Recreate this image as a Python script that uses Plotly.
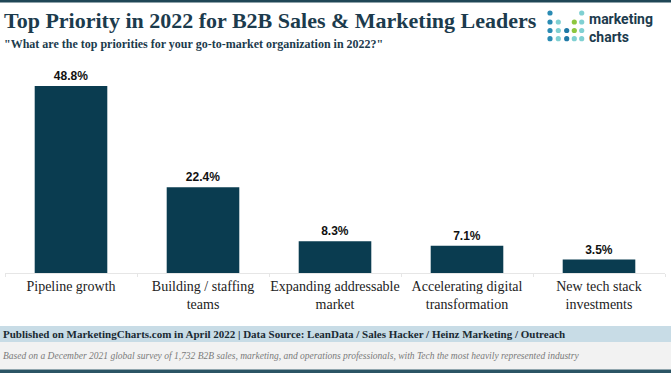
import plotly.graph_objects as go

categories = ["Pipeline growth", "Building / staffing<br>teams", "Expanding addressable<br>market",
              "Accelerating digital<br>transformation", "New tech stack<br>investments"]
values = [48.8, 22.4, 8.3, 7.1, 3.5]
value_labels = ["48.8%", "22.4%", "8.3%", "7.1%", "3.5%"]

W, H = 671, 373
L, R, T, B = 5, 6, 70, 100
PW, PH = W - L - R, H - T - B

def px(x):
    return (x - L) / PW

def py(y):
    return (H - B - y) / PH

NAVY = "#1c3b4d"
BAR = "#0a3c50"
SERIF = "Liberation Serif"

fig = go.Figure()
fig.add_trace(go.Bar(
    x=categories, y=values, text=value_labels, textposition="outside",
    textfont=dict(family="Liberation Sans", size=12, color="#111111", weight="bold"),
    marker=dict(color=BAR, line=dict(width=0)), cliponaxis=False, hoverinfo="skip"))

shapes = [
    dict(type="rect", xref="paper", yref="paper", x0=px(0), x1=px(W), y0=py(0), y1=py(2.5),
         fillcolor="#1f4656", line=dict(width=0), layer="above"),
    dict(type="rect", xref="paper", yref="paper", x0=px(0), x1=px(W), y0=py(326), y1=py(342),
         fillcolor="#c8dce6", line=dict(width=0)),
    dict(type="rect", xref="paper", yref="paper", x0=px(0), x1=px(W), y0=py(342), y1=py(369.5),
         fillcolor="#f2f2f2", line=dict(width=0)),
    dict(type="rect", xref="paper", yref="paper", x0=px(0), x1=px(W), y0=py(369.5), y1=py(H),
         fillcolor="#2b5565", line=dict(width=0)),
]

# logo dots
cols = [550, 558.3, 566.7, 574.3, 581.7]
rows = [13, 22, 30.5, 38.7]
BL, TL, GR, DB = "#2a8bb3", "#7fd0d2", "#8dc63f", "#1f79a6"
grid = [
    [BL, None, None, None, TL],
    [BL, TL, None, GR, TL],
    [BL, TL, DB, GR, TL],
    [BL, TL, DB, TL, TL],
]
r = 2.6
for ri, row in enumerate(grid):
    for ci, c in enumerate(row):
        if c:
            cx, cy = cols[ci], rows[ri]
            shapes.append(dict(type="circle", xref="paper", yref="paper",
                               x0=px(cx - r), x1=px(cx + r), y0=py(cy + r), y1=py(cy - r),
                               fillcolor=c, line=dict(width=0)))

def note(text, x, y, font, **kw):
    d = dict(text=text, x=px(x), y=py(y), xref="paper", yref="paper",
             xanchor="left", yanchor="middle", showarrow=False, font=font)
    d.update(kw)
    return d

annotations = [
    note("Top Priority in 2022 for B2B Sales & Marketing Leaders", 2, 20,
         dict(family=SERIF, size=22, color=NAVY, weight="bold")),
    note("\"What are the top priorities for your go-to-market organization in 2022?\"", 2, 44,
         dict(family=SERIF, size=12, color=NAVY, weight="bold")),
    note("marketing<br>charts", 587, 28,
         dict(family="Roboto", size=14, color=NAVY, weight="bold"), align="left"),
    note("Published on MarketingCharts.com in April 2022 | Data Source: LeanData / Sales Hacker / Heinz Marketing / Outreach",
         1, 334, dict(family=SERIF, size=11, color="#1a2a33", weight="bold")),
    note("<i>Based on a December 2021 global survey of 1,732 B2B sales, marketing, and operations professionals, with Tech the most heavily represented industry</i>",
         1, 356, dict(family=SERIF, size=9.5, color="#7a7a7a")),
]

fig.update_layout(
    width=W, height=H, margin=dict(l=L, r=R, t=T, b=B),
    paper_bgcolor="white", plot_bgcolor="white",
    showlegend=False, bargap=0.45,
    shapes=shapes, annotations=annotations,
    xaxis=dict(showgrid=False, showline=True, linecolor="#e6e6e6", linewidth=1,
               ticks="outside", tickson="boundaries", ticklen=3, tickcolor="#e6e6e6",
               tickangle=0,
               tickfont=dict(family=SERIF, size=14, color="#222222"), fixedrange=True),
    yaxis=dict(range=[0, 53], visible=False, showgrid=False, fixedrange=True),
)

fig.write_html("out.html", config={"displayModeBar": False},
               post_script="document.body.style.margin='0';document.body.style.overflow='hidden';")
